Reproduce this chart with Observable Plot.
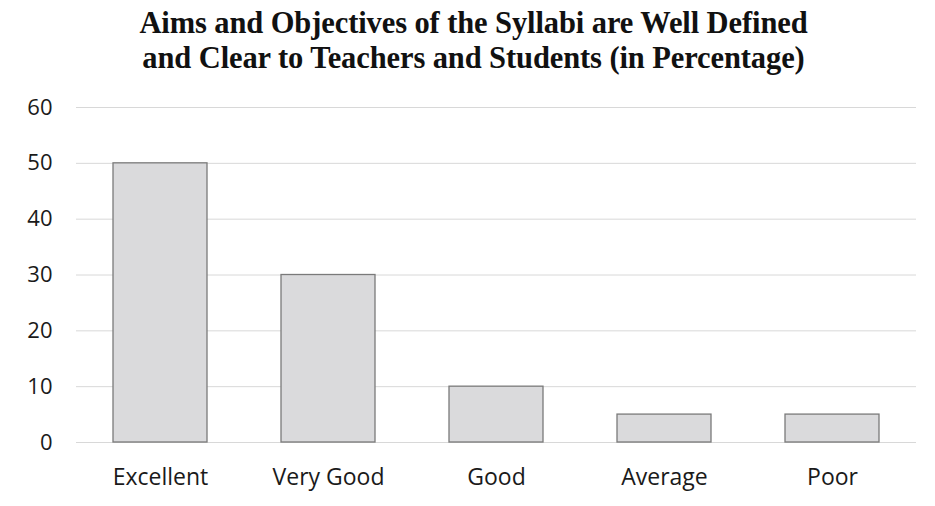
<!DOCTYPE html>
<html><head><meta charset="utf-8">
<script src="https://cdn.jsdelivr.net/npm/d3@7"></script>
<script src="https://cdn.jsdelivr.net/npm/@observablehq/plot@0.6"></script>
<style>
body{margin:0;background:#fff;width:935px;height:506px;overflow:hidden}
#title{font-family:"Liberation Serif","Times New Roman",serif;font-weight:bold;font-size:30.5px;line-height:35px;text-align:center;height:95px;padding-top:6px;box-sizing:border-box;color:#111;width:935px;padding-left:12px;letter-spacing:-0.1px}
</style></head><body>
<div id="title">Aims and Objectives of the Syllabi are Well Defined<br>and Clear to Teachers and Students (in Percentage)</div>
<div id="chart"></div>
<script>
const categories = ["Excellent","Very Good","Good","Average","Poor"];
const values = [50,30,10,5,5];
const yTicks = [0,10,20,30,40,50,60];
const data = categories.map((c,i)=>({category:c,value:values[i]}));
const chart = Plot.plot({
  width:935, height:411,
  marginTop:12, marginBottom:64, marginLeft:76, marginRight:19,
  style:{fontFamily:"'Open Sans', sans-serif", fontSize:"22px", color:"#1a1a1a", overflow:"visible"},
  x:{domain:categories, paddingInner:0.44, paddingOuter:0.22, label:null},
  y:{domain:[0,60], ticks:yTicks, label:null},
  marks:[
    Plot.gridY(yTicks,{stroke:"#d8d8d8",strokeOpacity:1}),
    Plot.barY(data,{x:"category",y:"value",fill:"#dadadc",stroke:"#7a7a7a",strokeWidth:1.3}),
    Plot.axisX({tickSize:0,tickPadding:26,fontSize:23}),
    Plot.axisY({ticks:yTicks,tickSize:0,tickPadding:24,fontSize:22})
  ]
});
document.getElementById("chart").appendChild(chart);
</script></body></html>
